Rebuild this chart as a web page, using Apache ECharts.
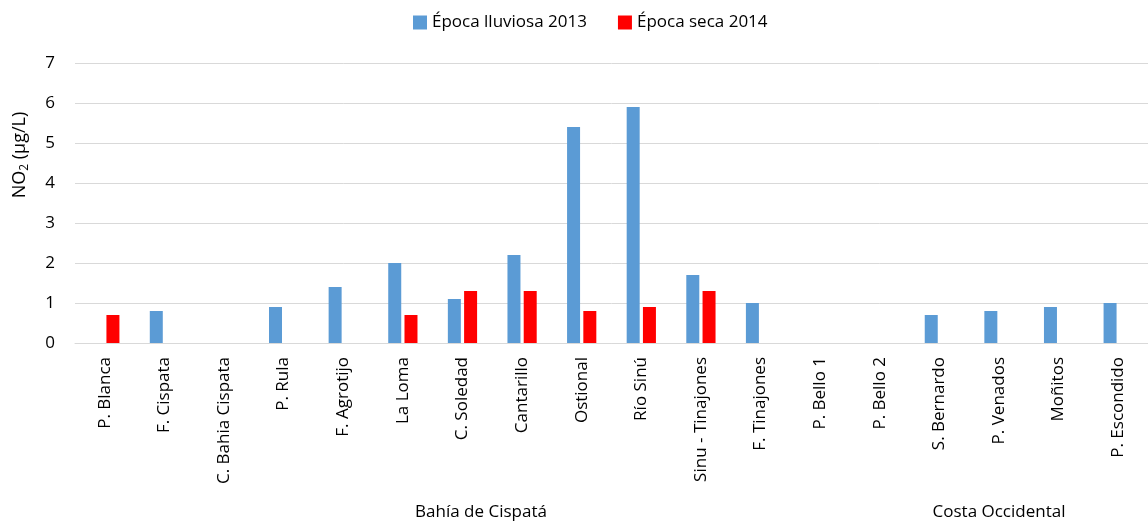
<!DOCTYPE html>
<html>
<head>
<meta charset="utf-8">
<script src="https://cdn.jsdelivr.net/npm/echarts@6/dist/echarts.min.js"></script>
<style>
  html, body { margin: 0; padding: 0; background: #fff; }
  #chart { width: 1148px; height: 522px; }
</style>
</head>
<body>
<div id="chart"></div>
<script>
// Sampling stations (in order along the axis)
const stations = [
  'P. Blanca', 'F. Cispata', 'C. Bahia Cispata', 'P. Rula', 'F. Agrotijo',
  'La Loma', 'C. Soledad', 'Cantarillo', 'Ostional', 'Río Sinú',
  'Sinu - Tinajones', 'F. Tinajones', 'P. Bello 1', 'P. Bello 2',
  'S. Bernardo', 'P. Venados', 'Moñitos', 'P. Escondido'
];

// NO2 concentration (µg/L); null = no measurement
const rainy2013 = [null, 0.8, null, 0.9, 1.4, 2.0, 1.1, 2.2, 5.4, 5.9, 1.7, 1.0, null, null, 0.7, 0.8, 0.9, 1.0];
const dry2014   = [0.7, null, null, null, null, 0.7, 1.3, 1.3, 0.8, 0.9, 1.3, null, null, null, null, null, null, null];

// Station groups shown under the station names
const groupNames = ['Bahía de Cispatá', 'Costa Occidental'];

const seriesNames = ['Época lluviosa 2013', 'Época seca 2014'];
const yTicks = [0, 1, 2, 3, 4, 5, 6, 7];

const FONT = "'Open Sans', 'Noto Sans', sans-serif";

const chart = echarts.init(document.getElementById('chart'));
chart.setOption({
  animation: false,
  backgroundColor: '#ffffff',
  textStyle: { fontFamily: FONT },
  legend: {
    top: 9,
    left: 408,
    itemWidth: 14,
    itemHeight: 14,
    itemGap: 31,
    icon: 'rect',
    textStyle: { fontSize: 17, color: '#000', fontFamily: FONT },
    data: seriesNames
  },
  grid: { left: 75, right: -7, top: 63, bottom: 179, containLabel: false },
  xAxis: {
    type: 'category',
    data: stations,
    axisLine: { lineStyle: { color: '#d9d9d9', width: 1 } },
    axisTick: { show: false },
    axisLabel: {
      rotate: 90,
      interval: 0,
      margin: 14,
      fontSize: 17,
      color: '#000',
      fontFamily: FONT
    }
  },
  yAxis: {
    type: 'value',
    min: yTicks[0],
    max: yTicks[yTicks.length - 1],
    interval: 1,
    axisLine: { show: false },
    axisTick: { show: false },
    splitLine: { lineStyle: { color: '#d9d9d9', width: 1 } },
    axisLabel: { fontSize: 17, color: '#000', margin: 20, fontFamily: FONT }
  },
  graphic: [
    {
      type: 'text',
      x: 20,
      y: 155,
      rotation: Math.PI / 2,
      style: {
        text: '{n|NO}{s|2}{n| (µg/L)}',
        align: 'center',
        verticalAlign: 'middle',
        rich: {
          n: { fontSize: 18, fill: '#000', fontFamily: FONT },
          s: { fontSize: 12, fill: '#000', fontFamily: FONT, padding: [9, 0, 0, 0] }
        }
      }
    },
    {
      type: 'text',
      x: 481,
      y: 512,
      style: {
        text: groupNames[0],
        align: 'center',
        verticalAlign: 'middle',
        fontSize: 17,
        fill: '#000',
        fontFamily: FONT
      }
    },
    {
      type: 'text',
      x: 999,
      y: 512,
      style: {
        text: groupNames[1],
        align: 'center',
        verticalAlign: 'middle',
        fontSize: 17,
        fill: '#000',
        fontFamily: FONT
      }
    }
  ],
  series: [
    {
      name: seriesNames[0],
      type: 'bar',
      data: rainy2013,
      barWidth: 13,
      barGap: '25%',
      itemStyle: { color: '#5b9bd5' }
    },
    {
      name: seriesNames[1],
      type: 'bar',
      data: dry2014,
      barWidth: 13,
      barGap: '25%',
      itemStyle: { color: '#ff0000' }
    }
  ]
});
</script>
</body>
</html>
